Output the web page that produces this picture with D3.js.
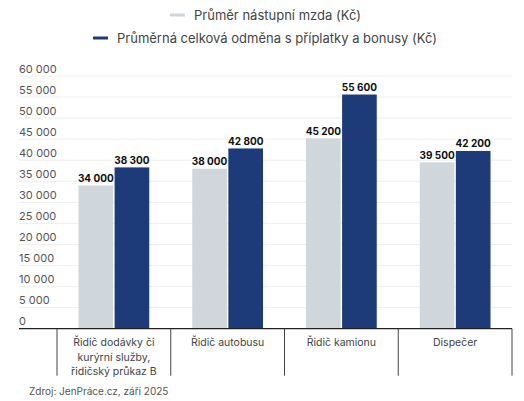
<!DOCTYPE html>
<html>
<head>
<meta charset="utf-8">
<script src="https://cdn.jsdelivr.net/npm/d3@7.9.0/dist/d3.min.js"></script>
<style>
  html, body { margin: 0; padding: 0; background: #fff; }
  svg { display: block; font-family: Inter, "Noto Sans", sans-serif; }
</style>
</head>
<body>
<svg id="chart" width="524" height="401"></svg>
<script>
// data
const categories = [
  ['Řidič dodávky či', 'kurýrní služby,', 'řidičský průkaz B'],
  ['Řidič autobusu'],
  ['Řidič kamionu'],
  ['Dispečer']
];
const seriesNames = ['Průměr nástupní mzda (Kč)', 'Průměrná celková odměna s příplatky a bonusy (Kč)'];
const startingPay = [34000, 38000, 45200, 39500];
const totalPay = [38300, 42800, 55600, 42200];
const yTicks = [0, 5000, 10000, 15000, 20000, 25000, 30000, 35000, 40000, 45000, 50000, 55000, 60000];

const colors = ['#cfd7dd', '#1c3b78'];
const fmt = v => d3.format(',')(v).replace(/,/g, ' ');

const svg = d3.select('#chart');
const plotLeft = 19, plotRight = 512, plotTop = 76, plotBottom = 328.7;

const y = d3.scaleLinear().domain([0, 60000]).range([plotBottom, plotTop]);
const x = d3.scaleBand().domain(d3.range(categories.length)).range([57, plotRight]);
const xInner = d3.scaleBand().domain([0, 1]).range([21.5, x.bandwidth() - 21.5]).paddingInner(0.04);

// gridlines + y labels
const grid = svg.append('g');
grid.selectAll('line').data(yTicks.slice(1)).join('line')
  .attr('x1', plotLeft).attr('x2', plotRight)
  .attr('y1', d => y(d)).attr('y2', d => y(d))
  .attr('stroke', '#eeeeee').attr('stroke-width', 1);
grid.selectAll('text').data(yTicks).join('text')
  .attr('x', plotLeft).attr('y', d => y(d) - 3.5)
  .attr('fill', '#555').attr('font-size', 11)
  .text(d => fmt(d));

// bars
const rows = categories.map((c, i) => [startingPay[i], totalPay[i]]);
const groups = svg.append('g').selectAll('g').data(rows).join('g')
  .attr('transform', (d, i) => `translate(${x(i)},0)`);
groups.selectAll('rect').data(d => d).join('rect')
  .attr('x', (d, j) => xInner(j))
  .attr('width', xInner.bandwidth())
  .attr('y', d => y(d))
  .attr('height', d => plotBottom - y(d))
  .attr('fill', (d, j) => colors[j]);
groups.selectAll('text').data(d => d).join('text')
  .attr('x', (d, j) => xInner(j) + xInner.bandwidth() / 2)
  .attr('y', d => y(d) - 3.5)
  .attr('text-anchor', 'middle')
  .attr('font-size', 10).attr('font-weight', 700).attr('fill', '#111')
  .text(d => fmt(d));

// baseline + separators
svg.append('line')
  .attr('x1', plotLeft).attr('x2', plotRight).attr('y1', plotBottom).attr('y2', plotBottom)
  .attr('stroke', '#222').attr('stroke-width', 1.3);
const seps = d3.range(categories.length + 1).map(i => i < categories.length ? x(i) : plotRight);
svg.append('g').selectAll('line').data(seps).join('line')
  .attr('x1', d => d).attr('x2', d => d)
  .attr('y1', plotBottom).attr('y2', 375.7)
  .attr('stroke', '#444').attr('stroke-width', 1);

// category labels
svg.append('g').selectAll('text').data(categories).join('text')
  .attr('text-anchor', 'middle').attr('font-size', 10.5).attr('fill', '#444')
  .attr('transform', (d, i) => `translate(${x(i) + x.bandwidth() / 2},346)`)
  .selectAll('tspan').data(d => d).join('tspan')
  .attr('x', 0).attr('dy', (d, k) => k === 0 ? 0 : 14.5)
  .text(d => d);

// legend
const legendPos = [{ sx: 170, tx: 194, y: 15 }, { sx: 93, tx: 117, y: 38 }];
const legend = svg.append('g').selectAll('g').data(seriesNames).join('g');
legend.append('line')
  .attr('x1', (d, i) => legendPos[i].sx).attr('x2', (d, i) => legendPos[i].sx + 15)
  .attr('y1', (d, i) => legendPos[i].y).attr('y2', (d, i) => legendPos[i].y)
  .attr('stroke', (d, i) => colors[i]).attr('stroke-width', 3);
legend.append('text')
  .attr('x', (d, i) => legendPos[i].tx).attr('y', (d, i) => legendPos[i].y + 4.5)
  .attr('font-size', 13).attr('fill', '#444')
  .text(d => d);

// source
svg.append('text')
  .attr('x', 29).attr('y', 395)
  .attr('font-size', 10).attr('fill', '#555')
  .text('Zdroj: JenPráce.cz, září 2025');
</script>
</body>
</html>
